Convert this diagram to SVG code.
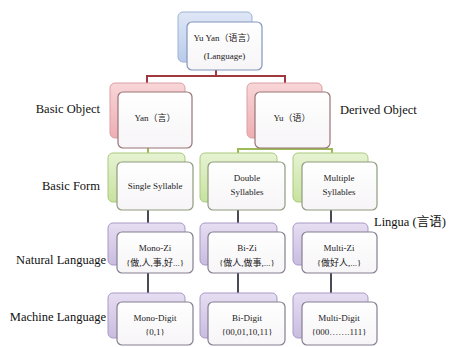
<svg xmlns="http://www.w3.org/2000/svg" width="449" height="347" viewBox="0 0 449 347">
<defs>
<linearGradient id="gb" x1="0" y1="0" x2="0" y2="1"><stop offset="0" stop-color="#dfe7f6"/><stop offset="1" stop-color="#b9cbea"/></linearGradient>
<linearGradient id="gr" x1="0" y1="0" x2="0" y2="1"><stop offset="0" stop-color="#f8d6d8"/><stop offset="1" stop-color="#eeaeb3"/></linearGradient>
<linearGradient id="gg" x1="0" y1="0" x2="0" y2="1"><stop offset="0" stop-color="#e6f3d2"/><stop offset="1" stop-color="#c7e29f"/></linearGradient>
<linearGradient id="gp" x1="0" y1="0" x2="0" y2="1"><stop offset="0" stop-color="#e6def2"/><stop offset="1" stop-color="#c9bce0"/></linearGradient>
<linearGradient id="fw" x1="0" y1="0" x2="0" y2="1"><stop offset="0" stop-color="#ffffff"/><stop offset="1" stop-color="#f7f5f7"/></linearGradient>
</defs>
<style>
.bb{fill:url(#gb);stroke:#9db2d6;stroke-width:1}
.br{fill:url(#gr);stroke:#d9a0a4;stroke-width:1}
.bg{fill:url(#gg);stroke:#a9c97c;stroke-width:1}
.bp{fill:url(#gp);stroke:#a899c6;stroke-width:1}
.fb{fill:url(#fw);stroke:#8396bb;stroke-width:1.2}
.fr{fill:url(#fw);stroke:#9a7476;stroke-width:1.2}
.fg{fill:url(#fw);stroke:#8f9c7e;stroke-width:1.2}
.fp{fill:url(#fw);stroke:#857f92;stroke-width:1.2}
.t{font-size:9px;fill:#222;text-anchor:middle}
.lab{font-size:12.5px;fill:#111}
.cr{stroke:#a0393e;stroke-width:2;fill:none}
.cg{stroke:#9bbb59;stroke-width:2;fill:none}
.ck{stroke:#4a4a55;stroke-width:2;fill:none}
</style>
<rect width="449" height="347" fill="#ffffff"/>
<g id="connectors">
<path class="cr" d="M216 70V76M147 76H286M147 75V83M285 75V83"/>
<path class="cg" d="M148 148V153M285 148V149M237 149H333M238 148V153M332 148V153"/>
<path class="ck" d="M148 210V223M238 210V223M331 210V223"/>
<path class="ck" d="M148 273V293M238 273V293M331 273V293"/>
</g>
<g font-family="'Liberation Serif', 'Times New Roman', 'DejaVu Serif', 'Noto Sans CJK SC', serif">
<g id="n-yuyan"><rect class="bb" x="178" y="12" width="74" height="50" rx="5"/><rect class="fb" x="187" y="22" width="75" height="48" rx="5"/><text class="t" x="224.5" y="41">Yu Yan（语言）</text><text class="t" x="224.5" y="59">(Language)</text></g>
<g id="n-yan"><rect class="br" x="110" y="83" width="75" height="55" rx="5"/><rect class="fr" x="118" y="92" width="74" height="56" rx="5"/><text class="t" x="155" y="121">Yan（言）</text></g>
<g id="n-yu"><rect class="br" x="247" y="83" width="75" height="55" rx="5"/><rect class="fr" x="255" y="92" width="75" height="56" rx="5"/><text class="t" x="292" y="121">Yu（语）</text></g>
<g id="n-single"><rect class="bg" x="108" y="153" width="77" height="49" rx="5"/><rect class="fg" x="117" y="162" width="76" height="48" rx="5"/><text class="t" x="155" y="189">Single Syllable</text></g>
<g id="n-double"><rect class="bg" x="200" y="153" width="77" height="49" rx="5"/><rect class="fg" x="208" y="162" width="77" height="48" rx="5"/><text class="t" x="247" y="181">Double</text><text class="t" x="247" y="195">Syllables</text></g>
<g id="n-multiple"><rect class="bg" x="293" y="153" width="75" height="49" rx="5"/><rect class="fg" x="302" y="162" width="75" height="48" rx="5"/><text class="t" x="339" y="181">Multiple</text><text class="t" x="339" y="195">Syllables</text></g>
<g id="n-monozi"><rect class="bp" x="108" y="223" width="77" height="42" rx="5"/><rect class="fp" x="117" y="232" width="76" height="41" rx="5"/><text class="t" x="155" y="251">Mono-Zi</text><text class="t" x="155" y="266">{做,人,事,好...}</text></g>
<g id="n-bizi"><rect class="bp" x="200" y="223" width="77" height="42" rx="5"/><rect class="fp" x="208" y="232" width="77" height="41" rx="5"/><text class="t" x="247" y="251">Bi-Zi</text><text class="t" x="247" y="266">{做人,做事,...}</text></g>
<g id="n-multizi"><rect class="bp" x="293" y="223" width="75" height="42" rx="5"/><rect class="fp" x="302" y="232" width="75" height="41" rx="5"/><text class="t" x="339" y="251">Multi-Zi</text><text class="t" x="339" y="266">{做好人,...}</text></g>
<g id="n-monodigit"><rect class="bp" x="108" y="293" width="77" height="45" rx="5"/><rect class="fp" x="117" y="302" width="76" height="43" rx="5"/><text class="t" x="155" y="321">Mono-Digit</text><text class="t" x="155" y="335">{0,1}</text></g>
<g id="n-bidigit"><rect class="bp" x="200" y="293" width="77" height="45" rx="5"/><rect class="fp" x="208" y="302" width="77" height="43" rx="5"/><text class="t" x="247" y="321">Bi-Digit</text><text class="t" x="247" y="335">{00,01,10,11}</text></g>
<g id="n-multidigit"><rect class="bp" x="293" y="293" width="75" height="45" rx="5"/><rect class="fp" x="302" y="302" width="75" height="43" rx="5"/><text class="t" x="339" y="321">Multi-Digit</text><text class="t" x="339" y="335">{000…….111}</text></g>
<g id="labels">
<text class="lab" x="100" y="113" text-anchor="end">Basic Object</text>
<text class="lab" x="100" y="190" text-anchor="end">Basic Form</text>
<text class="lab" x="106" y="264" text-anchor="end">Natural Language</text>
<text class="lab" x="106" y="321" text-anchor="end">Machine Language</text>
<text class="lab" x="340" y="114">Derived Object</text>
<text class="lab" x="374" y="226">Lingua (言语)</text>
</g>
</g>
</svg>
